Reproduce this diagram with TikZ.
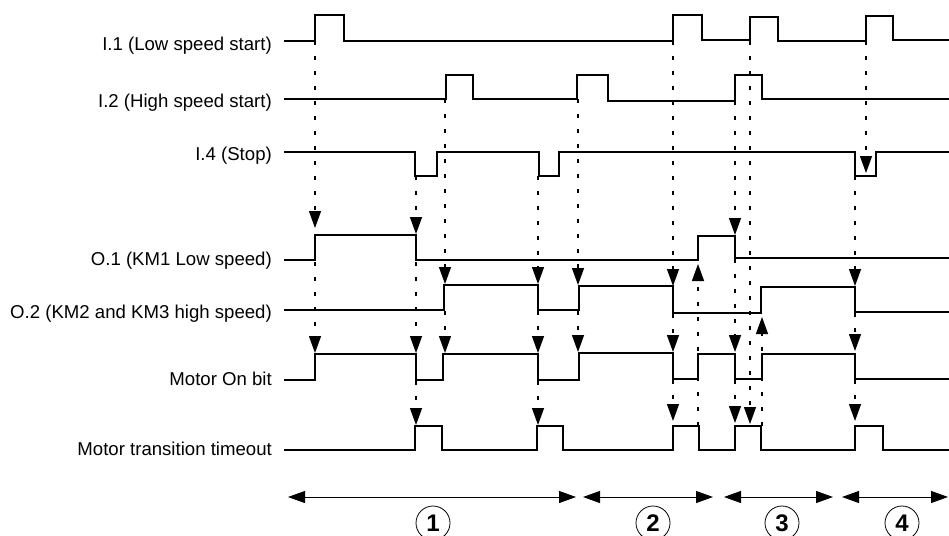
\documentclass[tikz,border=0pt]{standalone}
\usepackage{fontspec}
\setmainfont{Liberation Sans}
\usetikzlibrary{arrows.meta}
\begin{document}
\begin{tikzpicture}[x=1pt,y=-1pt,
  wave/.style={line width=1.2pt, line join=miter},
  causearrow/.style={line width=1.3pt, dash pattern=on 4pt off 11pt, -{Triangle[length=17pt,width=12pt]}},
  lbl/.style={anchor=base east, inner sep=0pt, font=\fontsize{18.6}{22}\selectfont},
  rangearrow/.style={line width=1pt, {Triangle[length=17pt,width=12pt]}-{Triangle[length=17pt,width=12pt]}},
  phasecircle/.style={circle, draw, line width=0.8pt, minimum size=34pt, inner sep=0pt, font=\fontsize{24}{26}\selectfont\bfseries}]
\useasboundingbox[fill=white] (0,0) rectangle (949,535);

% labels
\node[lbl] (lI1) at (272,51) {I.1 (Low speed start)};
\node[lbl] (lI2) at (272,107) {I.2 (High speed start)};
\node[lbl] (lI4) at (272,160) {I.4 (Stop)};
\node[lbl] (lO1) at (272,265) {O.1 (KM1 Low speed)};
\node[lbl] (lO2) at (272,318) {O.2 (KM2 and KM3 high speed)};
\node[lbl] (lMO) at (272,385) {Motor On bit};
\node[lbl] (lMT) at (272,455) {Motor transition timeout};

% waveforms
\draw[wave] (284,41) -- (315,41) -- (315,15) -- (344,15) -- (344,41) -- (673,41) -- (673,15) -- (702,15) -- (702,40) -- (750,40) -- (750,17) -- (778,17) -- (778,41) -- (866,41) -- (866,16) -- (893,16) -- (893,40) -- (949,40);
\draw[wave] (284,99) -- (446,99) -- (446,75) -- (473,75) -- (473,99) -- (577,99) -- (577,75) -- (608,75) -- (608,101) -- (735,101) -- (735,75) -- (762,75) -- (762,99) -- (949,99);
\draw[wave] (284,152) -- (415,152) -- (415,176) -- (437,176) -- (437,152) -- (539,152) -- (539,176) -- (559,176) -- (559,152) -- (855,152) -- (855,176) -- (876,176) -- (876,152) -- (949,152);
\draw[wave] (284,260) -- (315,260) -- (315,235) -- (416,235) -- (416,260) -- (698,260) -- (698,236) -- (735,236) -- (735,258) -- (949,258);
\draw[wave] (284,310) -- (444,310) -- (444,285) -- (538,285) -- (538,310) -- (579,310) -- (579,286) -- (673,286) -- (673,313) -- (761,313) -- (761,287) -- (855,287) -- (855,312) -- (949,312);
\draw[wave] (284,380) -- (315,380) -- (315,354) -- (416,354) -- (416,380) -- (443,380) -- (443,354) -- (538,354) -- (538,380) -- (579,380) -- (579,353) -- (673,353) -- (673,379) -- (698,379) -- (698,354) -- (735,354) -- (735,379) -- (762,379) -- (762,354) -- (855,354) -- (855,379) -- (949,379);
\draw[wave] (284,450) -- (415,450) -- (415,426) -- (442,426) -- (442,450) -- (537,450) -- (537,426) -- (563,426) -- (563,450) -- (673,450) -- (673,426) -- (699,426) -- (699,450) -- (735,450) -- (735,426) -- (761,426) -- (761,450) -- (855,450) -- (855,426) -- (883,426) -- (883,450) -- (949,450);

% cause/effect coordinates
\coordinate (A0) at (315,41);  \coordinate (A1) at (315,228);
\coordinate (A2) at (315,262); \coordinate (A3) at (315,353);
\coordinate (B0) at (416,176); \coordinate (B1) at (416,234);
\coordinate (B2) at (416,262); \coordinate (B3) at (416,353);
\coordinate (B4) at (416,381); \coordinate (B5) at (416,425);
\coordinate (C0) at (445,99);  \coordinate (C1) at (445,284);
\coordinate (C2) at (445,311); \coordinate (C3) at (445,353);
\coordinate (D0) at (538,176); \coordinate (D1) at (538,284);
\coordinate (D2) at (538,311); \coordinate (D3) at (538,353);
\coordinate (D4) at (538,381); \coordinate (D5) at (538,425);
\coordinate (E0) at (578,99);  \coordinate (E1) at (578,285);
\coordinate (E2) at (578,311); \coordinate (E3) at (578,352);
\coordinate (F0) at (673,41);  \coordinate (F1) at (673,286);
\coordinate (F2) at (673,314); \coordinate (F3) at (673,352);
\coordinate (F4) at (673,380); \coordinate (F5) at (673,421);
\coordinate (G0) at (698,426); \coordinate (G1) at (698,264);
\coordinate (H0) at (735,101); \coordinate (H1) at (735,235);
\coordinate (H2) at (735,259); \coordinate (H3) at (735,352);
\coordinate (H4) at (735,380); \coordinate (H5) at (735,423);
\coordinate (I0) at (750,41);  \coordinate (I1) at (750,424);
\coordinate (J0) at (762,426); \coordinate (J1) at (762,317);
\coordinate (K0) at (866,41);  \coordinate (K1) at (866,173);
\coordinate (L0) at (855,176); \coordinate (L1) at (855,286);
\coordinate (L2) at (855,313); \coordinate (L3) at (855,351);
\coordinate (L4) at (855,380); \coordinate (L5) at (855,421);

\draw[causearrow] (A0) -- (A1);
\draw[causearrow] (A2) -- (A3);
\draw[causearrow] (B0) -- (B1);
\draw[causearrow] (B2) -- (B3);
\draw[causearrow] (B4) -- (B5);
\draw[causearrow] (C0) -- (C1);
\draw[causearrow] (C2) -- (C3);
\draw[causearrow] (D0) -- (D1);
\draw[causearrow] (D2) -- (D3);
\draw[causearrow] (D4) -- (D5);
\draw[causearrow] (E0) -- (E1);
\draw[causearrow] (E2) -- (E3);
\draw[causearrow] (F0) -- (F1);
\draw[causearrow] (F2) -- (F3);
\draw[causearrow] (F4) -- (F5);
\draw[causearrow] (G0) -- (G1);
\draw[causearrow] (H0) -- (H1);
\draw[causearrow] (H2) -- (H3);
\draw[causearrow] (H4) -- (H5);
\draw[causearrow] (I0) -- (I1);
\draw[causearrow] (J0) -- (J1);
\draw[causearrow] (K0) -- (K1);
\draw[causearrow] (L0) -- (L1);
\draw[causearrow] (L2) -- (L3);
\draw[causearrow] (L4) -- (L5);

% phase ranges
\coordinate (R1a) at (288,497); \coordinate (R1b) at (576,497);
\coordinate (R2a) at (583,497); \coordinate (R2b) at (713,497);
\coordinate (R3a) at (724,497); \coordinate (R3b) at (833,497);
\coordinate (R4a) at (842,497); \coordinate (R4b) at (948,497);
\draw[rangearrow] (R1a) -- (R1b);
\draw[rangearrow] (R2a) -- (R2b);
\draw[rangearrow] (R3a) -- (R3b);
\draw[rangearrow] (R4a) -- (R4b);
\node[phasecircle] (p1) at (433,523) {1};
\node[phasecircle] (p2) at (653,523) {2};
\node[phasecircle] (p3) at (782,523) {3};
\node[phasecircle] (p4) at (902,523) {4};
\end{tikzpicture}
\end{document}
